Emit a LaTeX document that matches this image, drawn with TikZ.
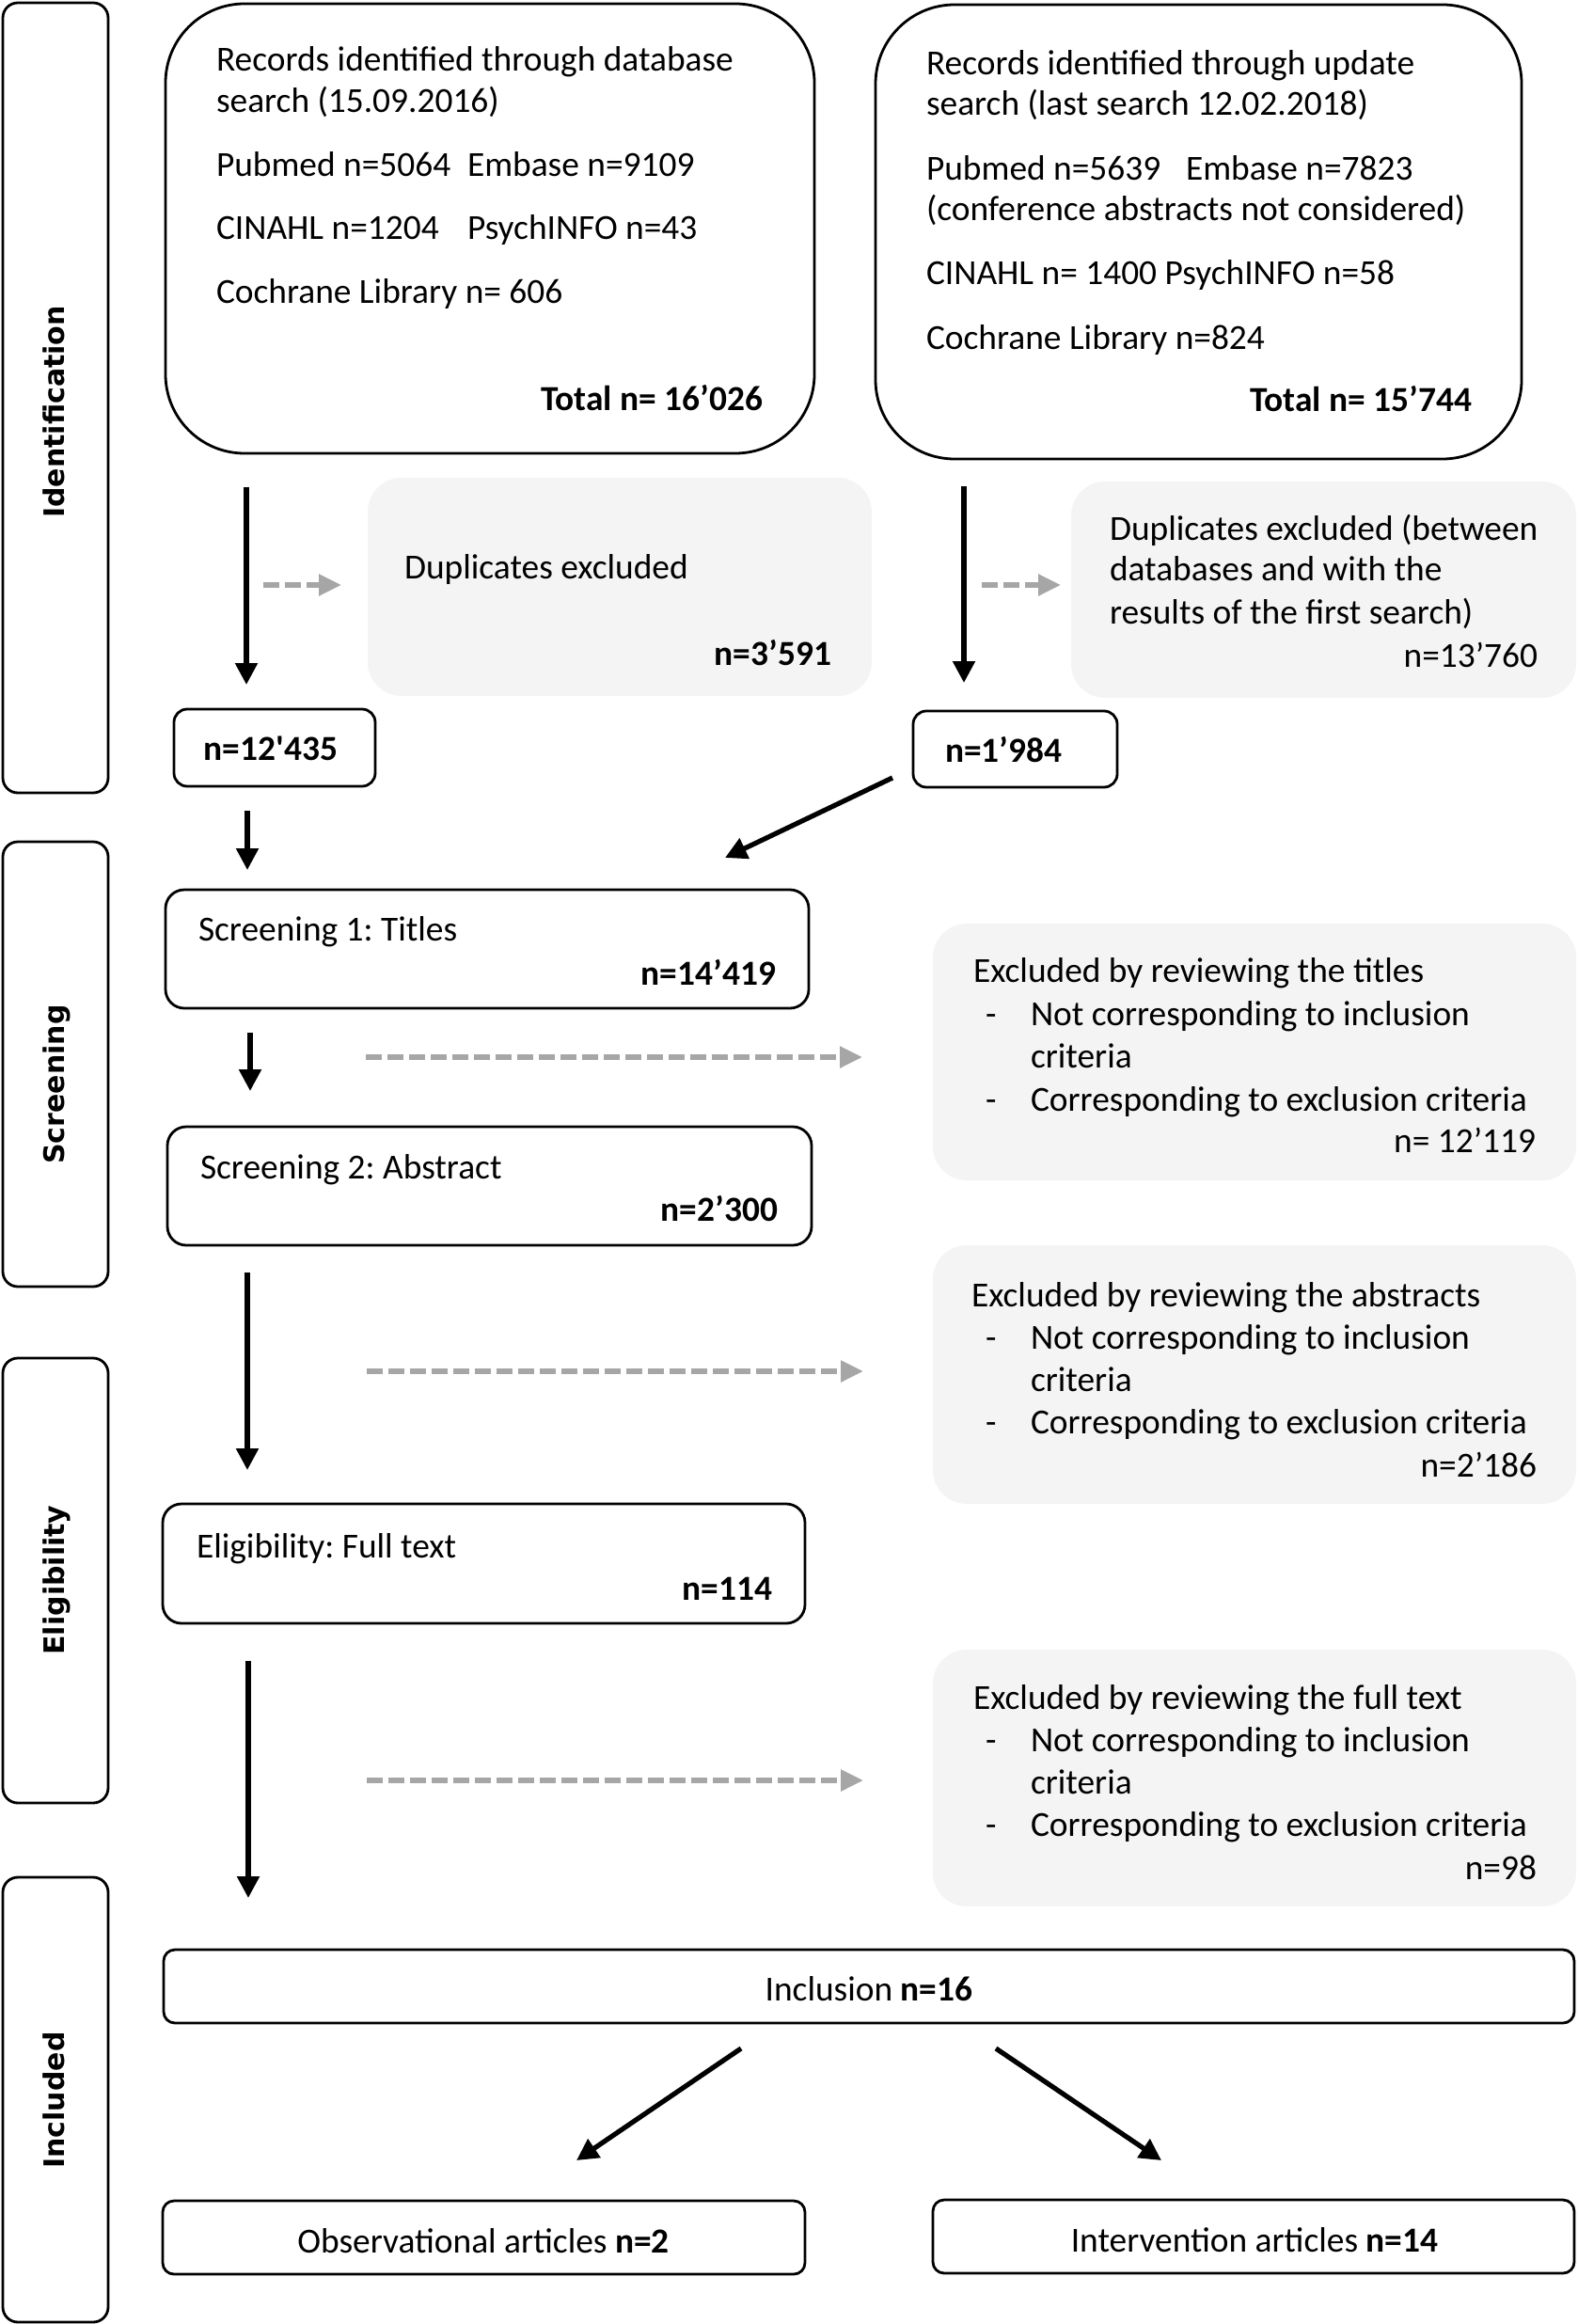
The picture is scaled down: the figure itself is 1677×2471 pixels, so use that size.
\documentclass[tikz,border=0pt]{standalone}
\usepackage{fontspec}
\setmainfont{Carlito}
\newfontfamily\sidefont{DejaVu Sans}
\usetikzlibrary{arrows.meta,calc}
\definecolor{exfill}{HTML}{F4F4F4}
\definecolor{garrow}{HTML}{A6A6A6}
\frenchspacing
\begin{document}
\begin{tikzpicture}[x=0.5pt,y=-0.5pt,
  every node/.style={inner sep=0pt, outer sep=0pt},
  frame/.style={draw, line width=1.4pt, rounded corners=#1},
  exbox/.style={fill=exfill, draw=none, rounded corners=18pt},
  sidebox/.style={draw, line width=1.4pt, rounded corners=8pt, minimum width=56pt, minimum height=236.5pt},
  sidelabel/.style={rotate=90, anchor=base, font=\sidefont\bfseries\fontsize{15}{18}\selectfont},
  tl/.style={anchor=base west, font=\fontsize{18.7}{22}\selectfont},
  tr/.style={anchor=base east, font=\fontsize{18.7}{22}\selectfont\bfseries},
  trn/.style={anchor=base east, font=\fontsize{18.7}{22}\selectfont},
  tc/.style={anchor=base, font=\fontsize{18.7}{22}\selectfont},
  arr/.style={line width=2.6pt, -{Triangle[length=11.5pt,width=11.5pt]}},
  garr/.style={draw=garrow, line width=2.8pt, dash pattern=on 8.5pt off 3pt, -{Triangle[length=12pt,width=11pt]}, color=garrow}
]
\useasboundingbox (0,0) rectangle (1677,2471);

% side boxes
\node[sidebox, minimum height=420pt] (sI) at (59,423) {};
\node[sidebox] (sS) at (59,1131.5) {};
\node[sidebox] (sE) at (59,1680.5) {};
\node[sidebox] (sN) at (59,2232.5) {};
\node[sidelabel] (lI) at (68,438) {Identification};
\node[sidelabel] (lS) at (68,1153) {Screening};
\node[sidelabel] (lE) at (68,1680) {Eligibility};
\node[sidelabel] (lN) at (68,2233) {Included};

% main boxes
\node[frame=42pt, minimum width=345pt, minimum height=239pt] (A) at (521,243) {};
\node[frame=42pt, minimum width=343.5pt, minimum height=241.5pt] (B) at (1274.5,246.5) {};
\node[exbox, minimum width=268pt, minimum height=116pt] (DA) at (659,624) {};
\node[exbox, minimum width=268.5pt, minimum height=115pt] (DB) at (1407.5,627) {};
\node[frame=7pt, minimum width=107pt, minimum height=41pt] (n1) at (292,795) {};
\node[frame=7pt, minimum width=108.5pt, minimum height=40.5pt] (n2) at (1079.5,796.5) {};
\node[frame=10pt, minimum width=342pt, minimum height=63pt] (S1) at (518,1009) {};
\node[frame=10pt, minimum width=342.5pt, minimum height=63pt] (S2) at (520.5,1261) {};
\node[exbox, minimum width=342pt, minimum height=136.5pt] (XT) at (1334,1118.5) {};
\node[exbox, minimum width=342pt, minimum height=137.5pt] (XA) at (1334,1461.5) {};
\node[frame=10pt, minimum width=341.5pt, minimum height=63.5pt] (E) at (514.5,1662.5) {};
\node[exbox, minimum width=342pt, minimum height=136.5pt] (XF) at (1334,1890.5) {};
\node[frame=6pt, minimum width=750pt, minimum height=39pt] (Inc) at (924,2112) {};
\node[frame=6pt, minimum width=341.5pt, minimum height=39pt] (Obs) at (514.5,2379) {};
\node[frame=6pt, minimum width=341pt, minimum height=39pt] (Int) at (1333,2378) {};

% texts box A
\node[tl] (A1) at (230,76) {Records identified through database};
\node[tl] (A2) at (230,120) {search (15.09.2016)};
\node[tl] (A3) at (230,188) {Pubmed n=5064};
\node[tl] (A3b) at (497,188) {Embase n=9109};
\node[tl] (A4) at (230,255) {CINAHL n=1204};
\node[tl] (A4b) at (497,255) {PsychINFO n=43};
\node[tl] (A5) at (230,323) {Cochrane Library n= 606};
\node[tr] (A6) at (811,437) {Total n= 16’026};

% texts box B
\node[tl] (B1) at (985,80) {Records identified through update};
\node[tl] (B2) at (985,123) {search (last search 12.02.2018)};
\node[tl] (B3) at (985,192) {Pubmed n=5639};
\node[tl] (B3b) at (1261,192) {Embase n=7823};
\node[tl] (B4) at (985,235) {(conference abstracts not considered)};
\node[tl] (B5) at (985,303) {CINAHL n= 1400 PsychINFO n=58};
\node[tl] (B6) at (985,372) {Cochrane Library n=824};
\node[tr] (B7) at (1565,438) {Total n= 15’744};

% duplicates
\node[tl] (DA1) at (430,615) {Duplicates excluded};
\node[tr] (DA2) at (884,707) {n=3’591};
\node[tl] (DB1) at (1180,574) {Duplicates excluded (between};
\node[tl] (DB2) at (1180,617) {databases and with the};
\node[tl] (DB3) at (1180,663) {results of the first search)};
\node[trn] (DB4) at (1635,709) {n=13’760};

% counts
\node[tc, font=\fontsize{18.7}{22}\selectfont\bfseries] (n1t) at (288,808) {n=12\textquotesingle435};
\node[tl, font=\fontsize{18.7}{22}\selectfont\bfseries] (n2t) at (1005,810) {n=1’984};

% screening
\node[tl] (S1a) at (211,1000) {Screening 1: Titles};
\node[tr] (S1b) at (825,1047) {n=14’419};
\node[tl] (S2a) at (213,1253) {Screening 2: Abstract};
\node[tr] (S2b) at (827,1298) {n=2’300};

% excluded titles
\node[tl] (XT1) at (1035,1044) {Excluded by reviewing the titles};
\node[tl] (XT2d) at (1048,1090) {-};
\node[tl] (XT2) at (1096,1090) {Not corresponding to inclusion};
\node[tl] (XT3) at (1096,1135) {criteria};
\node[tl] (XT4d) at (1048,1181) {-};
\node[tl] (XT4) at (1096,1181) {Corresponding to exclusion criteria};
\node[trn] (XT5) at (1633,1225) {n= 12’119};

% excluded abstracts
\node[tl] (XA1) at (1033,1389) {Excluded by reviewing the abstracts};
\node[tl] (XA2d) at (1048,1434) {-};
\node[tl] (XA2) at (1096,1434) {Not corresponding to inclusion};
\node[tl] (XA3) at (1096,1479) {criteria};
\node[tl] (XA4d) at (1048,1524) {-};
\node[tl] (XA4) at (1096,1524) {Corresponding to exclusion criteria};
\node[trn] (XA5) at (1634,1570) {n=2’186};

% eligibility
\node[tl] (E1) at (209,1656) {Eligibility: Full text};
\node[tr] (E2) at (821,1701) {n=114};

% excluded full text
\node[tl] (XF1) at (1035,1817) {Excluded by reviewing the full text};
\node[tl] (XF2d) at (1048,1862) {-};
\node[tl] (XF2) at (1096,1862) {Not corresponding to inclusion};
\node[tl] (XF3) at (1096,1907) {criteria};
\node[tl] (XF4d) at (1048,1952) {-};
\node[tl] (XF4) at (1096,1952) {Corresponding to exclusion criteria};
\node[trn] (XF5) at (1634,1998) {n=98};

% included
\node[tc] (Inct) at (924,2127) {Inclusion \textbf{n=16}};
\node[tc] (Obst) at (514,2395) {Observational articles \textbf{n=2}};
\node[tc] (Intt) at (1334,2394) {Intervention articles \textbf{n=14}};

% black arrows
\coordinate (xa) at (262,0);
\coordinate (xb) at (1025,0);
\coordinate (xc) at (263,0);
\coordinate (xd) at (266,0);
\coordinate (xe) at (264,0);
\draw[arr, shorten <=18pt, shorten >=13pt] (A.south -| xa) -- (n1.north -| xa);
\draw[arr, shorten <=14.5pt, shorten >=15pt] (B.south -| xb) -- (n2.north -| xb);
\draw[arr, shorten <=13pt, shorten >=10.5pt] (n1.south -| xc) -- (S1.north -| xc);
\draw[arr] ($(n2.south west)+(-22,-10)$) -- ($(S1.north east)+(-89,-34)$);
\draw[arr, shorten <=13pt, shorten >=19pt] (S1.south -| xd) -- (S2.north -| xd);
\draw[arr, shorten <=14.5pt, shorten >=18pt] (S2.south -| xc) -- (E.north -| xc);
\draw[arr, shorten <=20pt, shorten >=27.5pt] (E.south -| xe) -- (Inc.north -| xe);
\draw[arr] ($(Inc.south west)+(614,27)$) -- ($(Obs.north)+(98.5,-43)$);
\draw[arr] ($(Inc.south west)+(885,27)$) -- ($(Int.north)+(-98,-42)$);

% gray dashed arrows
\draw[garr] ($(DA.west)+(-111,-2)$) -- ($(DA.west)+(-28,-2)$);
\draw[garr] ($(DB.west)+(-95,-5)$) -- ($(DB.west)+(-11,-5)$);
\draw[garr] ($(XT.west)+(-603,5.5)$) -- ($(XT.west)+(-75,5.5)$);
\draw[garr] ($(XA.west)+(-602,-3.5)$) -- ($(XA.west)+(-74,-3.5)$);
\draw[garr] ($(XF.west)+(-602,2.5)$) -- ($(XF.west)+(-74,2.5)$);
\end{tikzpicture}
\end{document}
